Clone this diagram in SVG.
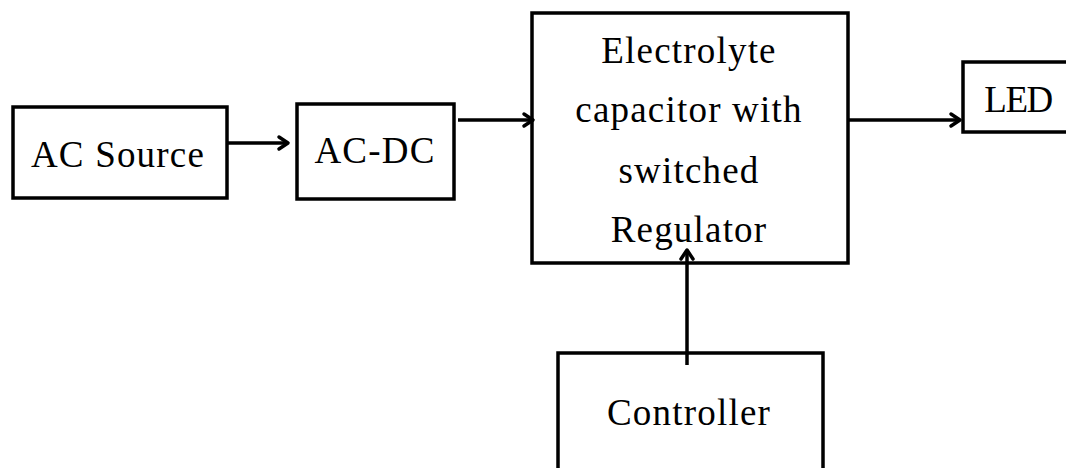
<svg xmlns="http://www.w3.org/2000/svg" width="1066" height="468" viewBox="0 0 1066 468">
<style>
.box{fill:#fff;stroke:#000;stroke-width:3.5}
.lbl{font-family:"Liberation Serif","Times New Roman",serif;font-size:37px;letter-spacing:1.2px;fill:#000;text-anchor:middle}
.con{stroke:#000;stroke-width:3.5;fill:none}
</style>
<defs>
<marker id="arr" viewBox="0 0 14 16" refX="11" refY="8" markerWidth="14" markerHeight="16" markerUnits="userSpaceOnUse" orient="auto" overflow="visible">
<path d="M2,2 L11,8 L2,14" fill="none" stroke="#000" stroke-width="3.5" stroke-linecap="round" stroke-linejoin="round"/>
</marker>
</defs>
<rect width="1066" height="468" fill="#fff"/>
<g id="ac-source">
<rect class="box" x="13" y="107" width="214" height="91"/>
<text class="lbl" x="118" y="167">AC Source</text>
</g>
<g id="ac-dc">
<rect class="box" x="297" y="104" width="157" height="95"/>
<text class="lbl" x="375" y="163">AC-DC</text>
</g>
<g id="regulator">
<rect class="box" x="532" y="13" width="316" height="250"/>
<text class="lbl" x="689" y="63">Electrolyte</text>
<text class="lbl" x="689" y="122">capacitor with</text>
<text class="lbl" x="689" y="183">switched</text>
<text class="lbl" x="689" y="242">Regulator</text>
</g>
<g id="led">
<rect class="box" x="963" y="62" width="120" height="70"/>
<text class="lbl" x="1018" y="112" style="letter-spacing:-1.5px">LED</text>
</g>
<g id="controller">
<rect class="box" x="558" y="353" width="265" height="130"/>
<text class="lbl" x="689" y="425">Controller</text>
</g>
<g id="connectors">
<line class="con" x1="227" y1="143" x2="288" y2="143" marker-end="url(#arr)"/>
<line class="con" x1="458" y1="120" x2="533" y2="120" marker-end="url(#arr)"/>
<line class="con" x1="848" y1="120" x2="960" y2="120" marker-end="url(#arr)"/>
<line class="con" x1="687" y1="365" x2="687" y2="250" marker-end="url(#arr)"/>
</g>
</svg>
